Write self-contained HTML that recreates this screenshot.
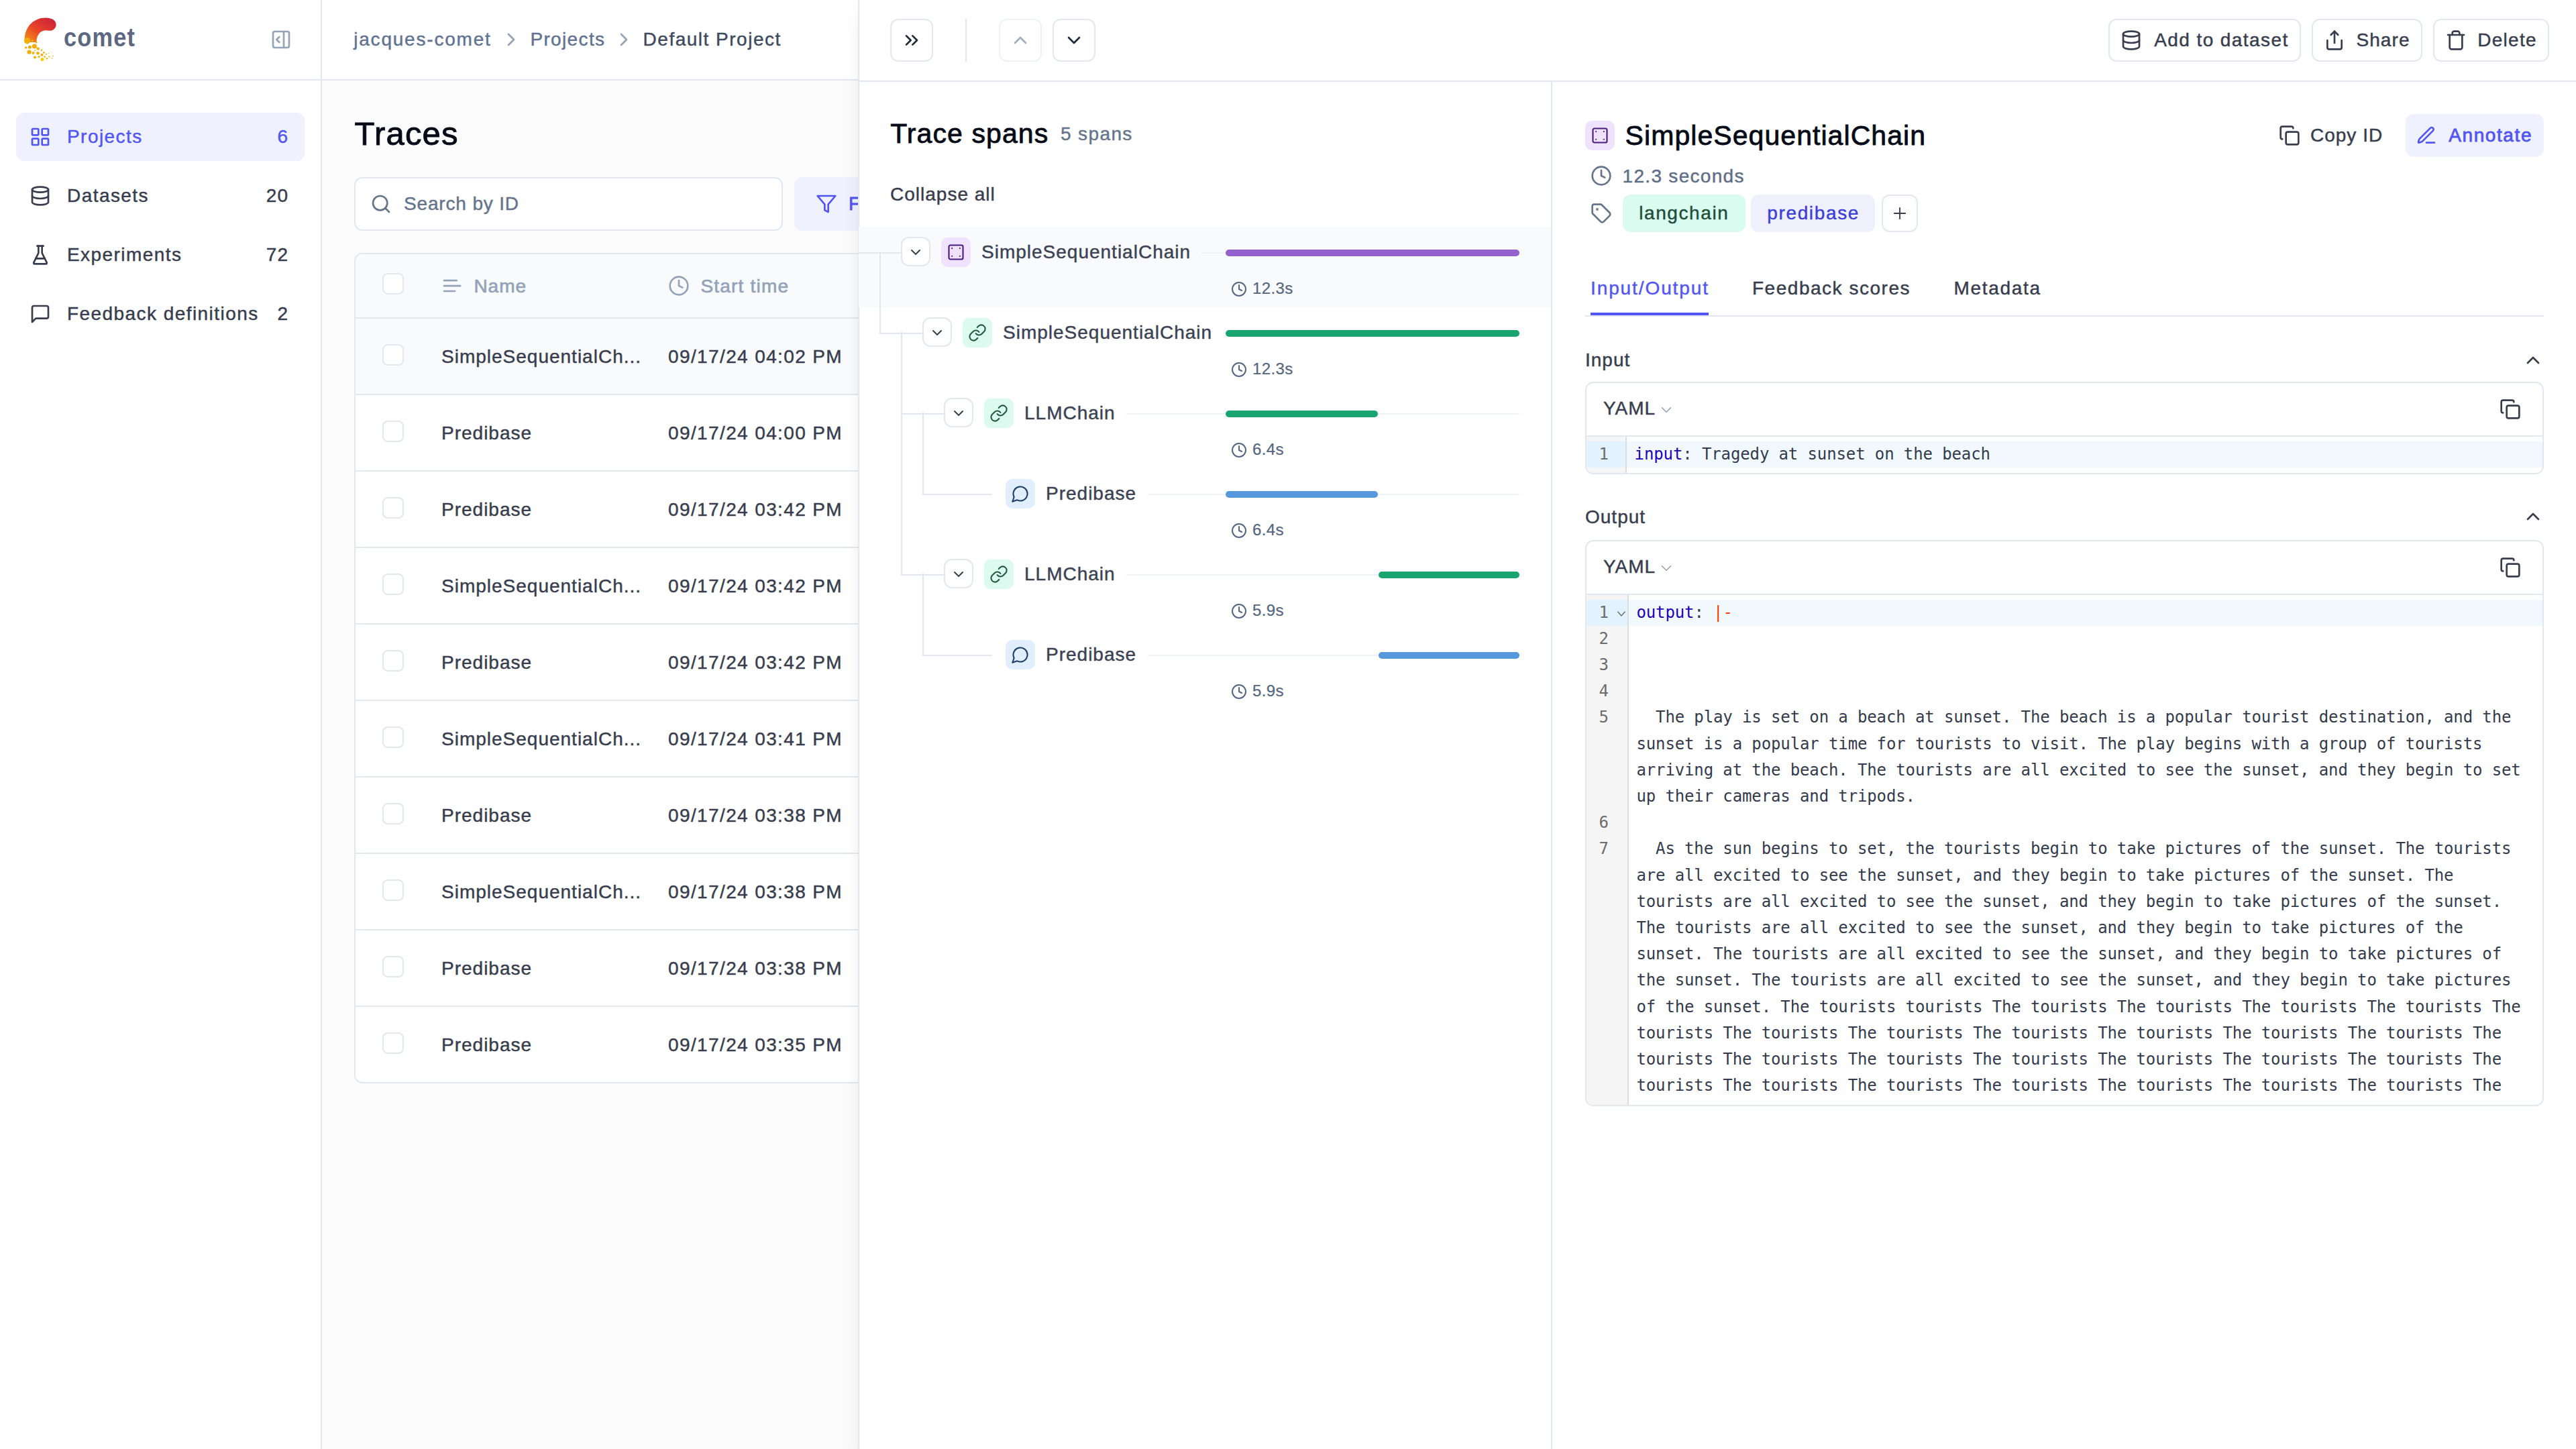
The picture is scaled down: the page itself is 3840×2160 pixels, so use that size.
<!DOCTYPE html>
<html><head><meta charset="utf-8"><title>Opik - Traces</title>
<style>
html,body{margin:0;padding:0;background:#fff;overflow:hidden}
#root{position:relative;width:1920px;height:1080px;zoom:1;overflow:hidden;font-family:"Liberation Sans",Arial,sans-serif;color:#373D4D;font-size:14px;line-height:20px;letter-spacing:.5px;background:#FBFBFC;-webkit-text-stroke:.22px currentColor}
.mono{-webkit-text-stroke:0}
.abs{position:absolute}
svg.i{position:absolute;fill:none;stroke:currentColor;stroke-width:2;stroke-linecap:round;stroke-linejoin:round}
.t{position:absolute;white-space:nowrap}
#sb{position:absolute;left:0;top:0;width:240px;height:1080px;background:#fff;border-right:1px solid #E2E8F0;box-sizing:border-box}
#sbh{position:absolute;left:0;top:0;width:239px;height:60px;border-bottom:1px solid #E2E8F0;box-sizing:border-box}
.nav{position:absolute;left:12px;width:215px;height:36px;border-radius:6px;color:#373D4D}
.nav.act{background:#F0F1FE;color:#5155F5}
.nav svg.i{left:10px;top:10px;width:16px;height:16px}
.nav .lbl{position:absolute;left:38px;top:8px;letter-spacing:.72px}
.nav .cnt{position:absolute;right:12px;top:8px}
#hd{position:absolute;left:240px;top:0;width:1680px;height:60px;border-bottom:1px solid #E2E8F0;box-sizing:border-box;background:#fff}
#tbl{position:absolute;left:264px;top:188.5px;width:1400px;height:619px;border:1px solid #E2E8F0;border-radius:6px;background:#fff;box-sizing:border-box;overflow:hidden}
.row{position:absolute;left:0;width:100%;height:57px;border-bottom:1px solid #E2E8F0;box-sizing:border-box}
.cb{position:absolute;left:20px;width:16px;height:16px;border:1px solid #E2E8F0;border-radius:4px;background:#fff;box-sizing:border-box}
#sh{position:absolute;left:640px;top:0;width:1280px;height:1080px;background:#fff;box-shadow:0 10px 15px -3px rgba(0,0,0,.1),0 4px 6px -4px rgba(0,0,0,.1)}
.btn{position:absolute;border:1px solid #E2E8F0;border-radius:6px;background:#fff;box-sizing:border-box}
.mono{font-family:"DejaVu Sans Mono","Liberation Mono",monospace;letter-spacing:-.06px;font-size:12px}
@media (min-width:2400px){#root{zoom:2}}
</style></head>
<body><div id="root">
<div id="sb"><div id="sbh">
<svg class="abs" style="left:16px;top:12px" width="28" height="36" viewBox="16 12 28 36">
<defs><linearGradient id="lg" x1="0" y1="1" x2="1" y2="0"><stop offset="0" stop-color="#F29A10"/><stop offset=".45" stop-color="#E8442A"/><stop offset="1" stop-color="#C81C3C"/></linearGradient></defs>
<path d="M18.3 29.5 C18.6 20 25 13.3 34.1 13.3 C38 13.3 42 15 41.8 18.6 C41.6 21.5 39 23.2 36.6 22.9 C35 22.6 33.5 22.5 32 23 C29 24 27.3 27 27.2 31.5 L18.5 31.5 Z" fill="url(#lg)"/>
<g fill="#F2AE06">
<circle cx="20.3" cy="30.4" r="2.3"/><circle cx="24.2" cy="30.4" r=".8"/><circle cx="27.1" cy="31.6" r=".6"/>
<circle cx="19.3" cy="35.5" r=".85"/><circle cx="22.2" cy="35.1" r="1.25"/><circle cx="25.7" cy="34.5" r="1.75"/><circle cx="28.4" cy="36.3" r="1.1"/><circle cx="31" cy="37.4" r=".6"/><circle cx="26.1" cy="37.6" r=".5"/>
<circle cx="21.8" cy="38.8" r="1.6"/><circle cx="24.8" cy="39.5" r="1"/><circle cx="28.2" cy="39.6" r="1.15"/><circle cx="32.7" cy="39.2" r=".7"/><circle cx="31.2" cy="40.9" r="1"/><circle cx="34.5" cy="40.4" r=".55"/><circle cx="36.2" cy="39.7" r=".3"/>
<circle cx="26" cy="42.7" r="1"/><circle cx="29" cy="42.3" r=".8"/><circle cx="33.3" cy="42.3" r=".65"/><circle cx="36.7" cy="42.3" r=".55"/><circle cx="39.5" cy="41.8" r=".4"/>
<circle cx="31.5" cy="44.2" r="1.25" fill="#F7CF00"/><circle cx="35" cy="43.6" r=".6"/><circle cx="38.7" cy="43.5" r=".4"/>
</g></svg>
<div class="t" style="left:47.6px;top:13.9px;font-size:19.5px;line-height:28px;font-weight:bold;color:#5D6782;letter-spacing:.7px;transform:scaleX(.88);transform-origin:0 0;-webkit-text-stroke:0">comet</div>
<svg class="i" style="left:201.3px;top:21.6px;color:#94A3B8" width="16" height="16" viewBox="0 0 24 24"><rect width="18" height="18" x="3" y="3" rx="2"/><path d="M15 3v18"/><path d="m10 15-3-3 3-3"/></svg>
</div>
<div class="nav act" style="top:84px"><svg class="i" viewBox="0 0 24 24"><rect width="7" height="7" x="3" y="3" rx="1"/><rect width="7" height="7" x="14" y="3" rx="1"/><rect width="7" height="7" x="14" y="14" rx="1"/><rect width="7" height="7" x="3" y="14" rx="1"/></svg><span class="lbl">Projects</span><span class="cnt">6</span></div>
<div class="nav" style="top:128px"><svg class="i" viewBox="0 0 24 24"><ellipse cx="12" cy="5" rx="9" ry="3"/><path d="M3 5V19A9 3 0 0 0 21 19V5"/><path d="M3 12A9 3 0 0 0 21 12"/></svg><span class="lbl">Datasets</span><span class="cnt">20</span></div>
<div class="nav" style="top:172px"><svg class="i" viewBox="0 0 24 24"><path d="M10 2v7.527a2 2 0 0 1-.211.896L4.72 20.55a1 1 0 0 0 .9 1.45h12.76a1 1 0 0 0 .9-1.45l-5.069-10.127A2 2 0 0 1 14 9.527V2"/><path d="M8.5 2h7"/><path d="M7 16h10"/></svg><span class="lbl">Experiments</span><span class="cnt">72</span></div>
<div class="nav" style="top:216px"><svg class="i" viewBox="0 0 24 24"><path d="M21 15a2 2 0 0 1-2 2H7l-4 4V5a2 2 0 0 1 2-2h14a2 2 0 0 1 2 2z"/></svg><span class="lbl">Feedback definitions</span><span class="cnt">2</span></div>
</div>
<div id="hd">
<div class="t" style="left:23.6px;top:19.6px;color:#5F7390;letter-spacing:.9px">jacques-comet</div>
<svg class="i" style="left:133px;top:21.4px;color:#94A3B8" width="16" height="16" viewBox="0 0 24 24"><path d="m9 18 6-6-6-6"/></svg>
<div class="t" style="left:155.2px;top:19.6px;color:#5F7390;letter-spacing:.68px">Projects</div>
<svg class="i" style="left:217.1px;top:21.4px;color:#94A3B8" width="16" height="16" viewBox="0 0 24 24"><path d="m9 18 6-6-6-6"/></svg>
<div class="t" style="left:239.3px;top:19.6px;color:#3E4A5E;letter-spacing:.75px">Default Project</div>
</div>
<div class="t" style="left:264.3px;top:83.7px;font-size:24.5px;line-height:32px;color:#060B17;letter-spacing:.6px;-webkit-text-stroke:.45px #060B17">Traces</div>
<div class="abs" style="left:264px;top:132px;width:319.5px;height:40px;border:1px solid #E2E8F0;border-radius:6px;background:#fff;box-sizing:border-box">
<svg class="i" style="left:11px;top:11px;color:#64748B" width="16" height="16" viewBox="0 0 24 24"><circle cx="11" cy="11" r="8"/><path d="m21 21-4.3-4.3"/></svg>
<div class="t" style="left:36px;top:9px;color:#64748B;letter-spacing:.42px">Search by ID</div>
</div>
<div class="abs" style="left:592px;top:132px;width:110px;height:40px;border-radius:6px;background:#F0F1FE;color:#5155F5">
<svg class="i" style="left:16px;top:12.2px;color:#5155F5" width="16" height="16" viewBox="0 0 24 24"><polygon points="22 3 2 3 10 12.46 10 19 14 21 14 12.46 22 3"/></svg>
<div class="t" style="left:40.5px;top:10px;letter-spacing:.7px;-webkit-text-stroke:.4px #5155F5">Filters</div>
</div>
<div id="tbl">
<div class="row" style="top:0;height:48px;background:#F8FAFC">
<div class="cb" style="top:14px"></div>
<svg class="i" style="left:64px;top:15.6px;color:#94A3B8" width="16" height="16" viewBox="0 0 24 24"><path d="M17 6.1H3"/><path d="M21 12.1H3"/><path d="M15.1 18H3"/></svg>
<div class="t" style="left:88.2px;top:14.1px;color:#94A3B8;letter-spacing:.5px;-webkit-text-stroke:.35px #94A3B8">Name</div>
<svg class="i" style="left:232.9px;top:15.6px;color:#94A3B8" width="16" height="16" viewBox="0 0 24 24"><circle cx="12" cy="12" r="10"/><polyline points="12 6 12 12 16 14"/></svg>
<div class="t" style="left:257.2px;top:14.1px;color:#94A3B8;letter-spacing:.6px;-webkit-text-stroke:.35px #94A3B8">Start time</div>
</div>
<div class="row" style="top:48px;background:#F8FAFC"><div class="cb" style="top:19px"></div><div class="t" style="left:64px;top:18.6px;">SimpleSequentialCh...</div><div class="t" style="left:233px;top:18.6px;letter-spacing:.69px">09/17/24 04:02 PM</div></div>
<div class="row" style="top:105px"><div class="cb" style="top:19px"></div><div class="t" style="left:64px;top:18.6px;">Predibase</div><div class="t" style="left:233px;top:18.6px;letter-spacing:.69px">09/17/24 04:00 PM</div></div>
<div class="row" style="top:162px"><div class="cb" style="top:19px"></div><div class="t" style="left:64px;top:18.6px;">Predibase</div><div class="t" style="left:233px;top:18.6px;letter-spacing:.69px">09/17/24 03:42 PM</div></div>
<div class="row" style="top:219px"><div class="cb" style="top:19px"></div><div class="t" style="left:64px;top:18.6px;">SimpleSequentialCh...</div><div class="t" style="left:233px;top:18.6px;letter-spacing:.69px">09/17/24 03:42 PM</div></div>
<div class="row" style="top:276px"><div class="cb" style="top:19px"></div><div class="t" style="left:64px;top:18.6px;">Predibase</div><div class="t" style="left:233px;top:18.6px;letter-spacing:.69px">09/17/24 03:42 PM</div></div>
<div class="row" style="top:333px"><div class="cb" style="top:19px"></div><div class="t" style="left:64px;top:18.6px;">SimpleSequentialCh...</div><div class="t" style="left:233px;top:18.6px;letter-spacing:.69px">09/17/24 03:41 PM</div></div>
<div class="row" style="top:390px"><div class="cb" style="top:19px"></div><div class="t" style="left:64px;top:18.6px;">Predibase</div><div class="t" style="left:233px;top:18.6px;letter-spacing:.69px">09/17/24 03:38 PM</div></div>
<div class="row" style="top:447px"><div class="cb" style="top:19px"></div><div class="t" style="left:64px;top:18.6px;">SimpleSequentialCh...</div><div class="t" style="left:233px;top:18.6px;letter-spacing:.69px">09/17/24 03:38 PM</div></div>
<div class="row" style="top:504px"><div class="cb" style="top:19px"></div><div class="t" style="left:64px;top:18.6px;">Predibase</div><div class="t" style="left:233px;top:18.6px;letter-spacing:.69px">09/17/24 03:38 PM</div></div>
<div class="row" style="top:561px;border-bottom:none"><div class="cb" style="top:19px"></div><div class="t" style="left:64px;top:18.6px;">Predibase</div><div class="t" style="left:233px;top:18.6px;letter-spacing:.69px">09/17/24 03:35 PM</div></div>
</div>
<div id="sh">
<div class="abs" style="left:-0.5px;top:0;width:1px;height:1080px;background:#E2E8F0"></div>
<div class="abs" style="left:0;top:60px;width:1280px;height:1px;background:#E2E8F0"></div>
<div class="btn" style="left:23.5px;top:14px;width:32px;height:32px"><svg class="i" style="left:7px;top:7px;color:#1E293B" width="16" height="16" viewBox="0 0 24 24"><path d="m6 17 5-5-5-5"/><path d="m13 17 5-5-5-5"/></svg></div>
<div class="abs" style="left:79.5px;top:14px;width:1px;height:32px;background:#E2E8F0"></div>
<div class="btn" style="left:104.5px;top:14px;width:32px;height:32px;border-color:#EEF1F5"><svg class="i" style="left:7px;top:7px;color:#A3AEBF" width="16" height="16" viewBox="0 0 24 24"><path d="m18 15-6-6-6 6"/></svg></div>
<div class="btn" style="left:144.5px;top:14px;width:32px;height:32px"><svg class="i" style="left:7px;top:7px;color:#1E293B" width="16" height="16" viewBox="0 0 24 24"><path d="m6 9 6 6 6-6"/></svg></div>
<div class="btn" style="left:931.6px;top:14px;width:143.2px;height:32px"><svg class="i" style="left:8px;top:7px;color:#373D4D" width="16" height="16" viewBox="0 0 24 24"><ellipse cx="12" cy="5" rx="9" ry="3"/><path d="M3 5V19A9 3 0 0 0 21 19V5"/><path d="M3 12A9 3 0 0 0 21 12"/></svg><div class="t" style="left:33px;top:5px;letter-spacing:.71px">Add to dataset</div></div>
<div class="btn" style="left:1083px;top:14px;width:82.4px;height:32px"><svg class="i" style="left:7.9px;top:7px;color:#373D4D" width="16" height="16" viewBox="0 0 24 24"><path d="M4 12v8a2 2 0 0 0 2 2h12a2 2 0 0 0 2-2v-8"/><polyline points="16 6 12 2 8 6"/><line x1="12" x2="12" y1="2" y2="15"/></svg><div class="t" style="left:32.2px;top:5px;letter-spacing:.55px">Share</div></div>
<div class="btn" style="left:1173.6px;top:14px;width:86.4px;height:32px"><svg class="i" style="left:8px;top:7px;color:#373D4D" width="16" height="16" viewBox="0 0 24 24"><path d="M3 6h18"/><path d="M19 6v14c0 1-1 2-2 2H7c-1 0-2-1-2-2V6"/><path d="M8 6V4c0-1 1-2 2-2h4c1 0 2 1 2 2v2"/></svg><div class="t" style="left:32px;top:5px;letter-spacing:.65px">Delete</div></div>
<div class="abs" style="left:516px;top:61px;width:1px;height:1019px;background:#E2E8F0"></div>
<div class="t" style="left:23.6px;top:85.4px;font-size:20.5px;line-height:28px;color:#060B17;letter-spacing:.55px;-webkit-text-stroke:.4px #060B17">Trace spans</div>
<div class="t" style="left:150.5px;top:90px;color:#64748B;letter-spacing:.69px">5 spans</div>
<div class="t" style="left:23.5px;top:135px;color:#373D4D">Collapse all</div>
<div class="abs" style="left:0;top:169px;width:516px;height:60px;background:#F8FAFC"></div>
<div class="abs" style="left:-0.5px;top:188px;width:32px;height:1px;background:#E2E8F0"></div>
<div class="abs" style="left:15.5px;top:187.5px;width:1px;height:61px;background:#E2E8F0"></div>
<div class="abs" style="left:15.5px;top:248px;width:32px;height:1px;background:#E2E8F0"></div>
<div class="abs" style="left:31.5px;top:247.5px;width:1px;height:181px;background:#E2E8F0"></div>
<div class="abs" style="left:31.5px;top:308px;width:32px;height:1px;background:#E2E8F0"></div>
<div class="abs" style="left:47.5px;top:307.5px;width:1px;height:61px;background:#E2E8F0"></div>
<div class="abs" style="left:47.5px;top:368px;width:52px;height:1px;background:#E2E8F0"></div>
<div class="abs" style="left:31.5px;top:428px;width:32px;height:1px;background:#E2E8F0"></div>
<div class="abs" style="left:47.5px;top:427.5px;width:1px;height:61px;background:#E2E8F0"></div>
<div class="abs" style="left:47.5px;top:488px;width:52px;height:1px;background:#E2E8F0"></div>
<div class="btn" style="left:31.7px;top:176.6px;width:22px;height:22px;border-radius:6px"><svg class="i" style="left:4px;top:4.2px;color:#373D4D" width="12" height="12" viewBox="0 0 24 24"><path d="m6 9 6 6 6-6"/></svg></div>
<div class="abs" style="left:61.5px;top:177px;width:22px;height:22px;border-radius:5px;background:#EFE2FC"><svg class="i" style="left:4px;top:4px;color:#4A1A80;stroke-width:1.8" width="14" height="14" viewBox="0 0 24 24"><rect width="18" height="18" x="3" y="3" rx="2"/><path d="M7 7h.01"/><path d="M17 7h.01"/><path d="M7 17h.01"/><path d="M17 17h.01"/></svg></div>
<div class="t" style="left:91.5px;top:178px;color:#3B4254">SimpleSequentialChain</div>
<div class="abs" style="left:255.5px;top:188px;width:237.0px;height:1px;background:#EEF1F5"></div>
<div class="abs" style="left:273.5px;top:186px;width:219.0px;height:5px;border-radius:3px;background:#9461CF"></div>
<svg class="i" style="left:277.4px;top:209.4px;color:#55667F" width="12" height="12" viewBox="0 0 24 24"><circle cx="12" cy="12" r="10"/><polyline points="12 6 12 12 16 14"/></svg>
<div class="t" style="left:293.5px;top:207px;font-size:12px;line-height:16px;color:#55667F;letter-spacing:.2px;-webkit-text-stroke:.12px #55667F">12.3s</div>
<div class="btn" style="left:47.7px;top:236.6px;width:22px;height:22px;border-radius:6px"><svg class="i" style="left:4px;top:4.2px;color:#373D4D" width="12" height="12" viewBox="0 0 24 24"><path d="m6 9 6 6 6-6"/></svg></div>
<div class="abs" style="left:77.5px;top:237px;width:22px;height:22px;border-radius:5px;background:#DCFAF0"><svg class="i" style="left:4px;top:4px;color:#1F5A40;stroke-width:1.8" width="14" height="14" viewBox="0 0 24 24"><path d="M10 13a5 5 0 0 0 7.54.54l3-3a5 5 0 0 0-7.07-7.07l-1.72 1.71"/><path d="M14 11a5 5 0 0 0-7.54-.54l-3 3a5 5 0 0 0 7.07 7.07l1.71-1.71"/></svg></div>
<div class="t" style="left:107.5px;top:238px;color:#3B4254">SimpleSequentialChain</div>
<div class="abs" style="left:271.5px;top:248px;width:221.0px;height:1px;background:#EEF1F5"></div>
<div class="abs" style="left:273.5px;top:246px;width:219.0px;height:5px;border-radius:3px;background:#19A56F"></div>
<svg class="i" style="left:277.4px;top:269.4px;color:#55667F" width="12" height="12" viewBox="0 0 24 24"><circle cx="12" cy="12" r="10"/><polyline points="12 6 12 12 16 14"/></svg>
<div class="t" style="left:293.5px;top:267px;font-size:12px;line-height:16px;color:#55667F;letter-spacing:.2px;-webkit-text-stroke:.12px #55667F">12.3s</div>
<div class="btn" style="left:63.7px;top:296.6px;width:22px;height:22px;border-radius:6px"><svg class="i" style="left:4px;top:4.2px;color:#373D4D" width="12" height="12" viewBox="0 0 24 24"><path d="m6 9 6 6 6-6"/></svg></div>
<div class="abs" style="left:93.5px;top:297px;width:22px;height:22px;border-radius:5px;background:#DCFAF0"><svg class="i" style="left:4px;top:4px;color:#1F5A40;stroke-width:1.8" width="14" height="14" viewBox="0 0 24 24"><path d="M10 13a5 5 0 0 0 7.54.54l3-3a5 5 0 0 0-7.07-7.07l-1.72 1.71"/><path d="M14 11a5 5 0 0 0-7.54-.54l-3 3a5 5 0 0 0 7.07 7.07l1.71-1.71"/></svg></div>
<div class="t" style="left:123.5px;top:298px;color:#3B4254">LLMChain</div>
<div class="abs" style="left:199.5px;top:308px;width:293.0px;height:1px;background:#EEF1F5"></div>
<div class="abs" style="left:273.5px;top:306px;width:113.7px;height:5px;border-radius:3px;background:#19A56F"></div>
<svg class="i" style="left:277.4px;top:329.4px;color:#55667F" width="12" height="12" viewBox="0 0 24 24"><circle cx="12" cy="12" r="10"/><polyline points="12 6 12 12 16 14"/></svg>
<div class="t" style="left:293.5px;top:327px;font-size:12px;line-height:16px;color:#55667F;letter-spacing:.2px;-webkit-text-stroke:.12px #55667F">6.4s</div>
<div class="abs" style="left:109.5px;top:357px;width:22px;height:22px;border-radius:5px;background:#E1EEFD"><svg class="i" style="left:4px;top:4px;color:#1C3F6E;stroke-width:1.8" width="14" height="14" viewBox="0 0 24 24"><path d="M7.9 20A9 9 0 1 0 4 16.1L2 22Z"/></svg></div>
<div class="t" style="left:139.5px;top:358px;color:#3B4254">Predibase</div>
<div class="abs" style="left:215.5px;top:368px;width:277.0px;height:1px;background:#EEF1F5"></div>
<div class="abs" style="left:273.5px;top:366px;width:113.7px;height:5px;border-radius:3px;background:#5599DC"></div>
<svg class="i" style="left:277.4px;top:389.4px;color:#55667F" width="12" height="12" viewBox="0 0 24 24"><circle cx="12" cy="12" r="10"/><polyline points="12 6 12 12 16 14"/></svg>
<div class="t" style="left:293.5px;top:387px;font-size:12px;line-height:16px;color:#55667F;letter-spacing:.2px;-webkit-text-stroke:.12px #55667F">6.4s</div>
<div class="btn" style="left:63.7px;top:416.6px;width:22px;height:22px;border-radius:6px"><svg class="i" style="left:4px;top:4.2px;color:#373D4D" width="12" height="12" viewBox="0 0 24 24"><path d="m6 9 6 6 6-6"/></svg></div>
<div class="abs" style="left:93.5px;top:417px;width:22px;height:22px;border-radius:5px;background:#DCFAF0"><svg class="i" style="left:4px;top:4px;color:#1F5A40;stroke-width:1.8" width="14" height="14" viewBox="0 0 24 24"><path d="M10 13a5 5 0 0 0 7.54.54l3-3a5 5 0 0 0-7.07-7.07l-1.72 1.71"/><path d="M14 11a5 5 0 0 0-7.54-.54l-3 3a5 5 0 0 0 7.07 7.07l1.71-1.71"/></svg></div>
<div class="t" style="left:123.5px;top:418px;color:#3B4254">LLMChain</div>
<div class="abs" style="left:199.5px;top:428px;width:293.0px;height:1px;background:#EEF1F5"></div>
<div class="abs" style="left:387.5px;top:426px;width:105.0px;height:5px;border-radius:3px;background:#19A56F"></div>
<svg class="i" style="left:277.4px;top:449.4px;color:#55667F" width="12" height="12" viewBox="0 0 24 24"><circle cx="12" cy="12" r="10"/><polyline points="12 6 12 12 16 14"/></svg>
<div class="t" style="left:293.5px;top:447px;font-size:12px;line-height:16px;color:#55667F;letter-spacing:.2px;-webkit-text-stroke:.12px #55667F">5.9s</div>
<div class="abs" style="left:109.5px;top:477px;width:22px;height:22px;border-radius:5px;background:#E1EEFD"><svg class="i" style="left:4px;top:4px;color:#1C3F6E;stroke-width:1.8" width="14" height="14" viewBox="0 0 24 24"><path d="M7.9 20A9 9 0 1 0 4 16.1L2 22Z"/></svg></div>
<div class="t" style="left:139.5px;top:478px;color:#3B4254">Predibase</div>
<div class="abs" style="left:215.5px;top:488px;width:277.0px;height:1px;background:#EEF1F5"></div>
<div class="abs" style="left:387.5px;top:486px;width:105.0px;height:5px;border-radius:3px;background:#5599DC"></div>
<svg class="i" style="left:277.4px;top:509.4px;color:#55667F" width="12" height="12" viewBox="0 0 24 24"><circle cx="12" cy="12" r="10"/><polyline points="12 6 12 12 16 14"/></svg>
<div class="t" style="left:293.5px;top:507px;font-size:12px;line-height:16px;color:#55667F;letter-spacing:.2px;-webkit-text-stroke:.12px #55667F">5.9s</div>
<div class="abs" style="left:541.5px;top:90px;width:22px;height:22px;border-radius:5px;background:#EFE2FC"><svg class="i" style="left:4px;top:4px;color:#4A1A80;stroke-width:1.8" width="14" height="14" viewBox="0 0 24 24"><rect width="18" height="18" x="3" y="3" rx="2"/><path d="M7 7h.01"/><path d="M17 7h.01"/><path d="M7 17h.01"/><path d="M17 17h.01"/></svg></div>
<div class="t" style="left:571.3px;top:87.1px;font-size:20.5px;line-height:28px;color:#060B17;letter-spacing:.53px;-webkit-text-stroke:.4px #060B17">SimpleSequentialChain</div>
<svg class="i" style="left:1058.3px;top:93.2px;color:#373D4D" width="16" height="16" viewBox="0 0 24 24"><rect width="14" height="14" x="8" y="8" rx="2" ry="2"/><path d="M4 16c-1.1 0-2-.9-2-2V4c0-1.1.9-2 2-2h10c1.1 0 2 .9 2 2"/></svg>
<div class="t" style="left:1082px;top:91px;">Copy ID</div>
<div class="abs" style="left:1153.1px;top:85px;width:102.7px;height:32px;border-radius:6px;background:#F0F1FE;color:#5155F5"><svg class="i" style="left:7.5px;top:8px;color:#5155F5" width="16" height="16" viewBox="0 0 24 24"><path d="M12 20h9"/><path d="M16.376 3.622a1 1 0 0 1 3.002 3.002L7.368 18.635a2 2 0 0 1-.855.506l-2.872.838a.5.5 0 0 1-.62-.62l.838-2.872a2 2 0 0 1 .506-.854z"/></svg><div class="t" style="left:32px;top:6px;letter-spacing:.8px;-webkit-text-stroke:.4px #5155F5">Annotate</div></div>
<svg class="i" style="left:545.3px;top:123px;color:#64748B" width="16" height="16" viewBox="0 0 24 24"><circle cx="12" cy="12" r="10"/><polyline points="12 6 12 12 16 14"/></svg>
<div class="t" style="left:569.3px;top:121.4px;color:#5E6E86;letter-spacing:.65px">12.3 seconds</div>
<svg class="i" style="left:545.3px;top:151px;color:#64748B" width="16" height="16" viewBox="0 0 24 24"><path d="M12.586 2.586A2 2 0 0 0 11.172 2H4a2 2 0 0 0-2 2v7.172a2 2 0 0 0 .586 1.414l8.704 8.704a2.426 2.426 0 0 0 3.42 0l6.58-6.58a2.426 2.426 0 0 0 0-3.42z"/><circle cx="7.5" cy="7.5" r=".5" fill="currentColor"/></svg>
<div class="abs" style="left:569.6px;top:145px;width:91.4px;height:28px;border-radius:6px;background:#DAFBEF"><div class="t" style="left:12px;top:4px;color:#1F4D3A;letter-spacing:.8px">langchain</div></div>
<div class="abs" style="left:665.1px;top:145px;width:92.6px;height:28px;border-radius:6px;background:#F0F0FC"><div class="t" style="left:12px;top:4px;color:#3B3FD8;letter-spacing:.83px">predibase</div></div>
<div class="btn" style="left:762.3px;top:145px;width:27.4px;height:28px"><svg class="i" style="left:5.7px;top:6px;color:#373D4D;stroke-width:1.6" width="14" height="14" viewBox="0 0 24 24"><path d="M5 12h14"/><path d="M12 5v14"/></svg></div>
<div class="abs" style="left:541.5px;top:235px;width:714.5px;height:1px;background:#E2E8F0"></div>
<div class="t" style="left:545.5px;top:205px;color:#5155F5;letter-spacing:.95px">Input/Output</div>
<div class="abs" style="left:545.5px;top:233px;width:88px;height:2px;background:#5155F5"></div>
<div class="t" style="left:666px;top:205px;letter-spacing:.76px">Feedback scores</div>
<div class="t" style="left:816.2px;top:205px;letter-spacing:.86px">Metadata</div>
<div class="t" style="left:541.5px;top:258.3px;">Input</div>
<svg class="i" style="left:1240.1px;top:260.6px;color:#373D4D" width="16" height="16" viewBox="0 0 24 24"><path d="m18 15-6-6-6 6"/></svg>
<div class="t" style="left:541.5px;top:375.3px;">Output</div>
<svg class="i" style="left:1240.1px;top:377.2px;color:#373D4D" width="16" height="16" viewBox="0 0 24 24"><path d="m18 15-6-6-6 6"/></svg>
<div class="abs" style="left:541.5px;top:284.3px;width:714.5px;height:69px;border:1px solid #E2E8F0;border-radius:6px;background:#fff;box-sizing:border-box;overflow:hidden">
<div class="t" style="left:12.5px;top:5px;line-height:28px">YAML</div>
<svg class="i" style="left:53px;top:13.5px;color:#94A3B8;stroke-width:1.5" width="13" height="13" viewBox="0 0 24 24"><path d="m6 9 6 6 6-6"/></svg>
<svg class="i" style="left:680.5px;top:11.5px;color:#373D4D" width="16" height="16" viewBox="0 0 24 24"><rect width="14" height="14" x="8" y="8" rx="2" ry="2"/><path d="M4 16c-1.1 0-2-.9-2-2V4c0-1.1.9-2 2-2h10c1.1 0 2 .9 2 2"/></svg>
<div class="abs" style="left:0;top:39px;width:100%;height:1px;background:#E2E8F0"></div>
<div class="abs" style="left:0;top:40px;width:29.0px;height:69px;background:#F5F5F5;border-right:1px solid #DDDDDD"></div>
<div class="abs" style="left:0;top:43.5px;width:29.0px;height:19.6px;background:#E2F2FF"></div>
<div class="abs" style="left:30.0px;top:43.5px;width:700px;height:19.6px;background:#F1F9FF"></div>
<div class="t mono" style="left:0;width:16.5px;text-align:right;top:43.5px;line-height:19.6px;color:#6C6C6C;letter-spacing:0">1</div>
<div class="t mono" style="left:35.8px;top:43.5px;line-height:19.6px;color:#333A4B;white-space:pre"><span style="color:#2200B8">input</span>: Tragedy at sunset on the beach</div>
</div>
<div class="abs" style="left:541.5px;top:402.3px;width:714.5px;height:422px;border:1px solid #E2E8F0;border-radius:6px;background:#fff;box-sizing:border-box;overflow:hidden">
<div class="t" style="left:12.5px;top:5px;line-height:28px">YAML</div>
<svg class="i" style="left:53px;top:13.5px;color:#94A3B8;stroke-width:1.5" width="13" height="13" viewBox="0 0 24 24"><path d="m6 9 6 6 6-6"/></svg>
<svg class="i" style="left:680.5px;top:11.5px;color:#373D4D" width="16" height="16" viewBox="0 0 24 24"><rect width="14" height="14" x="8" y="8" rx="2" ry="2"/><path d="M4 16c-1.1 0-2-.9-2-2V4c0-1.1.9-2 2-2h10c1.1 0 2 .9 2 2"/></svg>
<div class="abs" style="left:0;top:39px;width:100%;height:1px;background:#E2E8F0"></div>
<div class="abs" style="left:0;top:40px;width:30.5px;height:422px;background:#F5F5F5;border-right:1px solid #DDDDDD"></div>
<div class="abs" style="left:0;top:43.5px;width:30.5px;height:19.6px;background:#E2F2FF"></div>
<div class="abs" style="left:31.5px;top:43.5px;width:700px;height:19.6px;background:#F1F9FF"></div>
<div class="t mono" style="left:0;width:16.5px;text-align:right;top:43.5px;line-height:19.6px;color:#6C6C6C;letter-spacing:0">1</div>
<svg class="i" style="left:22.5px;top:50.5px;color:#6C6C6C;stroke-width:2.4" width="7" height="7" viewBox="0 0 24 24"><path d="M3 7l9 10 9-10"/></svg>
<div class="t mono" style="left:37.2px;top:43.5px;line-height:19.6px;color:#333A4B;white-space:pre"><span style="color:#2200B8">output</span>: <span style="color:#F03E00">|-</span></div>
<div class="t mono" style="left:0;width:16.5px;text-align:right;top:63.1px;line-height:19.6px;color:#6C6C6C;letter-spacing:0">2</div>
<div class="t mono" style="left:0;width:16.5px;text-align:right;top:82.7px;line-height:19.6px;color:#6C6C6C;letter-spacing:0">3</div>
<div class="t mono" style="left:0;width:16.5px;text-align:right;top:102.3px;line-height:19.6px;color:#6C6C6C;letter-spacing:0">4</div>
<div class="t mono" style="left:0;width:16.5px;text-align:right;top:121.9px;line-height:19.6px;color:#6C6C6C;letter-spacing:0">5</div>
<div class="t mono" style="left:37.2px;top:121.9px;line-height:19.6px;color:#333A4B;white-space:pre">  The play is set on a beach at sunset. The beach is a popular tourist destination, and the</div>
<div class="t mono" style="left:37.2px;top:141.5px;line-height:19.6px;color:#333A4B;white-space:pre">sunset is a popular time for tourists to visit. The play begins with a group of tourists</div>
<div class="t mono" style="left:37.2px;top:161.1px;line-height:19.6px;color:#333A4B;white-space:pre">arriving at the beach. The tourists are all excited to see the sunset, and they begin to set</div>
<div class="t mono" style="left:37.2px;top:180.7px;line-height:19.6px;color:#333A4B;white-space:pre">up their cameras and tripods.</div>
<div class="t mono" style="left:0;width:16.5px;text-align:right;top:200.3px;line-height:19.6px;color:#6C6C6C;letter-spacing:0">6</div>
<div class="t mono" style="left:0;width:16.5px;text-align:right;top:219.9px;line-height:19.6px;color:#6C6C6C;letter-spacing:0">7</div>
<div class="t mono" style="left:37.2px;top:219.9px;line-height:19.6px;color:#333A4B;white-space:pre">  As the sun begins to set, the tourists begin to take pictures of the sunset. The tourists</div>
<div class="t mono" style="left:37.2px;top:239.5px;line-height:19.6px;color:#333A4B;white-space:pre">are all excited to see the sunset, and they begin to take pictures of the sunset. The</div>
<div class="t mono" style="left:37.2px;top:259.1px;line-height:19.6px;color:#333A4B;white-space:pre">tourists are all excited to see the sunset, and they begin to take pictures of the sunset.</div>
<div class="t mono" style="left:37.2px;top:278.7px;line-height:19.6px;color:#333A4B;white-space:pre">The tourists are all excited to see the sunset, and they begin to take pictures of the</div>
<div class="t mono" style="left:37.2px;top:298.3px;line-height:19.6px;color:#333A4B;white-space:pre">sunset. The tourists are all excited to see the sunset, and they begin to take pictures of</div>
<div class="t mono" style="left:37.2px;top:317.9px;line-height:19.6px;color:#333A4B;white-space:pre">the sunset. The tourists are all excited to see the sunset, and they begin to take pictures</div>
<div class="t mono" style="left:37.2px;top:337.5px;line-height:19.6px;color:#333A4B;white-space:pre">of the sunset. The tourists tourists The tourists The tourists The tourists The tourists The</div>
<div class="t mono" style="left:37.2px;top:357.1px;line-height:19.6px;color:#333A4B;white-space:pre">tourists The tourists The tourists The tourists The tourists The tourists The tourists The</div>
<div class="t mono" style="left:37.2px;top:376.7px;line-height:19.6px;color:#333A4B;white-space:pre">tourists The tourists The tourists The tourists The tourists The tourists The tourists The</div>
<div class="t mono" style="left:37.2px;top:396.3px;line-height:19.6px;color:#333A4B;white-space:pre">tourists The tourists The tourists The tourists The tourists The tourists The tourists The</div>
</div>
</div>
</div></body></html>
